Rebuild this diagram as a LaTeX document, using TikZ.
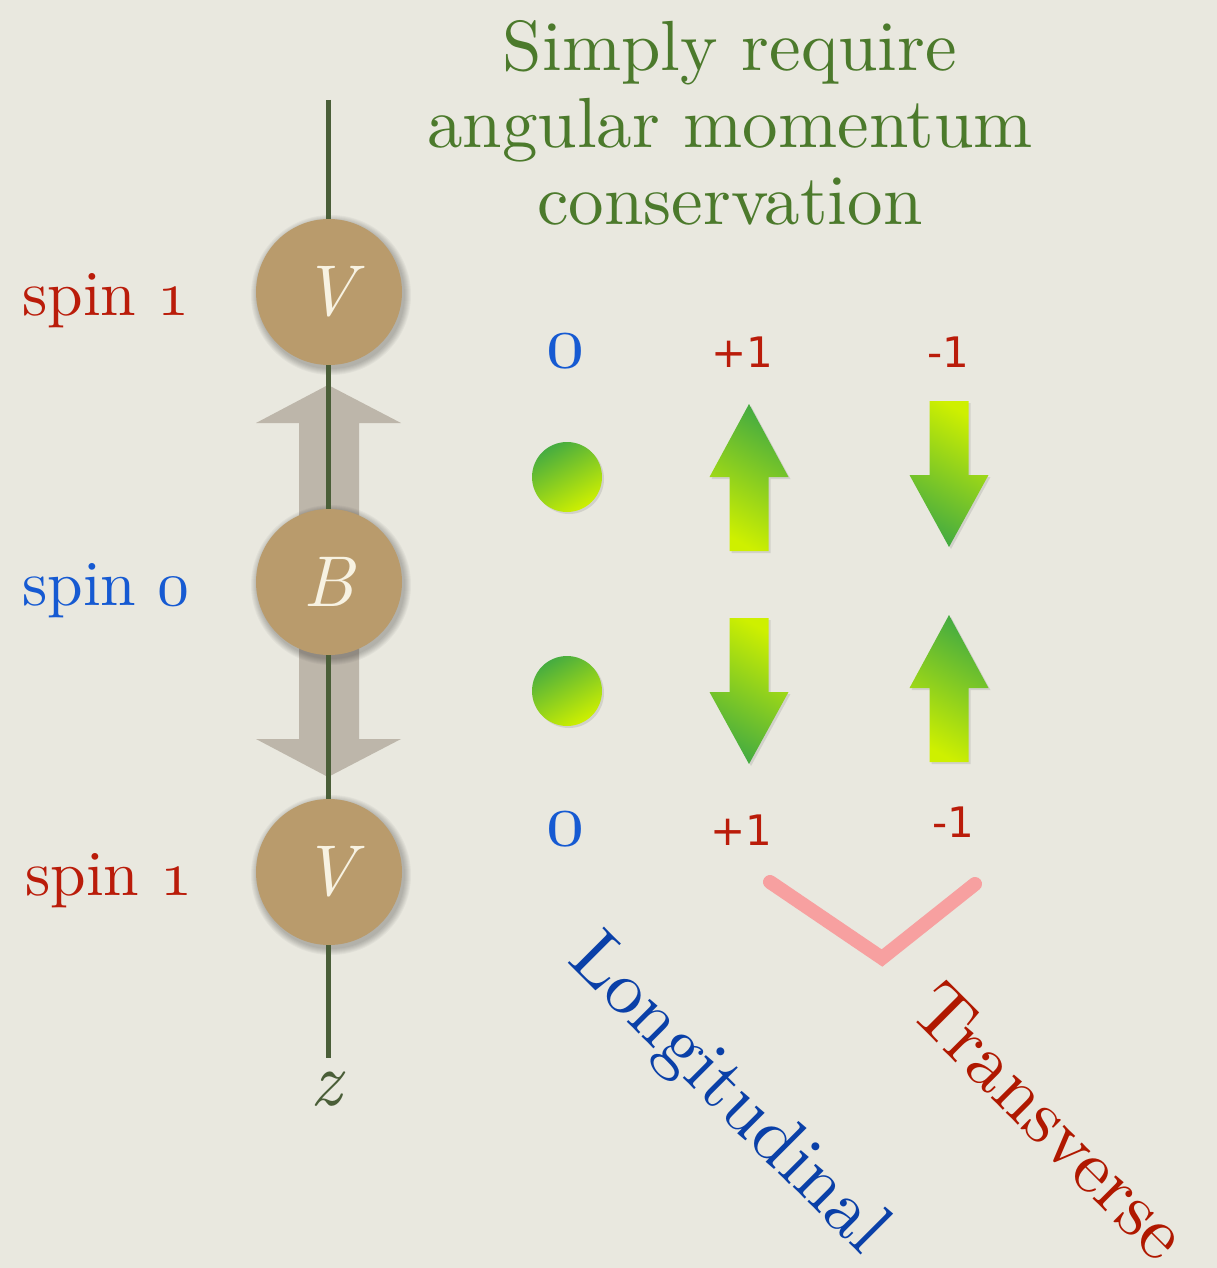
\documentclass[tikz,border=0pt]{standalone}
\usepackage{graphicx}
\usepackage{fontspec}
\setmainfont{lmroman10-regular.otf}[ItalicFont=lmroman10-italic.otf, BoldFont=lmroman10-bold.otf]
\newfontfamily\sansdv{DejaVu Sans}
\usetikzlibrary{shadows}
\definecolor{bgc}{RGB}{233,232,223}
\definecolor{axisc}{RGB}{74,94,56}
\definecolor{mesonc}{RGB}{185,155,108}
\definecolor{letterc}{RGB}{247,242,226}
\definecolor{greyarr}{RGB}{178,170,157}
\definecolor{greenA}{RGB}{70,172,64}
\definecolor{greenB}{RGB}{206,240,0}
\definecolor{titlec}{RGB}{76,122,44}
\definecolor{redc}{RGB}{186,28,10}
\definecolor{bluec}{RGB}{22,90,210}
\definecolor{longc}{RGB}{10,64,168}
\definecolor{transc}{RGB}{176,24,0}
\definecolor{pinkc}{RGB}{247,160,160}
\newcommand\osf[2]{\scalebox{#1}{\fontsize{10}{10}\usefont{OML}{cmm}{m}{it}#2}}
\newcommand\fsz[2]{\fontsize{#1}{#2}\selectfont}
\begin{document}
\begin{tikzpicture}[x=1pt,y=-1pt,
  meson/.style={circle, fill=mesonc, minimum size=146pt, inner sep=0pt, text=letterc, font=\fsz{72}{80}\itshape},
  gshadow/.style={drop shadow={opacity=0.22, shadow xshift=2pt, shadow yshift=-2pt}},
  greendot/.style={circle, minimum size=70pt, inner sep=0pt, gshadow, top color=greenA, bottom color=greenB, shading angle=30},
  upgreen/.pic={\path[gshadow, top color=greenA, bottom color=greenB, shading angle=-30]
     (0,0) -- (39.5,73) -- (19.5,73) -- (19.5,147) -- (-19.5,147) -- (-19.5,73) -- (-39.5,73) -- cycle;},
  downgreen/.pic={\path[gshadow, top color=greenB, bottom color=greenA, shading angle=-30]
     (-19.5,0) -- (19.5,0) -- (19.5,74) -- (39.5,74) -- (0,146) -- (-39.5,74) -- (-19.5,74) -- cycle;},
  spinlab/.style={anchor=base, font=\fsz{64}{64}},
  numlab/.style={anchor=base, font=\sansdv\fsz{42}{42}, text=redc},
  zerolab/.style={anchor=base, text=bluec}]
\fill[bgc] (0,0) rectangle (1217,1268);
\useasboundingbox (0,0) rectangle (1217,1268);
% grey double arrow
\fill[greyarr, opacity=0.8] (328,385) -- (401,423) -- (359,423) -- (359,739) -- (401,739) -- (328,777)
   -- (256,739) -- (299,739) -- (299,423) -- (256,423) -- cycle;
% soft shadows of mesons
\foreach \cy in {292,582,872}{
  \foreach \r in {74,...,80}{\fill[black, opacity=0.035] (331,\cy+3) circle (\r);}
}
% axis
\coordinate (ztop) at (328,100);
\coordinate (zend) at (328,1058);
\draw[axisc, line width=5] (ztop) -- (zend);
\node[meson] (vtop) at (329,292) {V};
\node[meson] (bmes) at (329,582) {B};
\node[meson] (vbot) at (329,872) {V};
\node[anchor=base, text=axisc, font=\fsz{76}{76}\itshape] (zlab) at (326,1105) {z};
% spin labels
\node[spinlab, text=redc] (s1) at (106,315) {spin \osf{6.4}{1}};
\node[spinlab, text=bluec] (s0) at (106,605) {spin \osf{6.4}{0}};
\node[spinlab, text=redc] (s2) at (109,895) {spin \osf{6.4}{1}};
% title
\node[align=center, text=titlec, font=\fsz{71}{77}] (title) at (730,123)
  {Simply require\\angular momentum\\conservation};
% helicity labels
\node[zerolab] (z0a) at (565,367) {\osf{7.6}{0}};
\node[numlab] (p1a) at (742,367) {+1};
\node[numlab] (m1a) at (948,367) {-1};
\node[zerolab] (z0b) at (565,845) {\osf{7.6}{0}};
\node[numlab] (p1b) at (741,845) {+1};
\node[numlab] (m1b) at (953,837) {-1};
% green symbols
\node[greendot] (g1) at (567,477) {};
\node[greendot] (g2) at (567,691) {};
\pic at (749,404) {upgreen};
\pic at (949,401) {downgreen};
\pic at (749,618) {downgreen};
\pic at (949,615) {upgreen};
% pink check
\draw[pinkc, line width=14, line cap=round] (770,882) -- (882,958) -- (975,884);
% rotated labels
\node[rotate=-45, text=longc, font=\fsz{75}{75}] (lng) at (727,1096) {Longitudinal};
\node[rotate=-45, text=transc, font=\fsz{76}{76}] (trv) at (1050,1121) {Transverse};
\end{tikzpicture}
\end{document}
